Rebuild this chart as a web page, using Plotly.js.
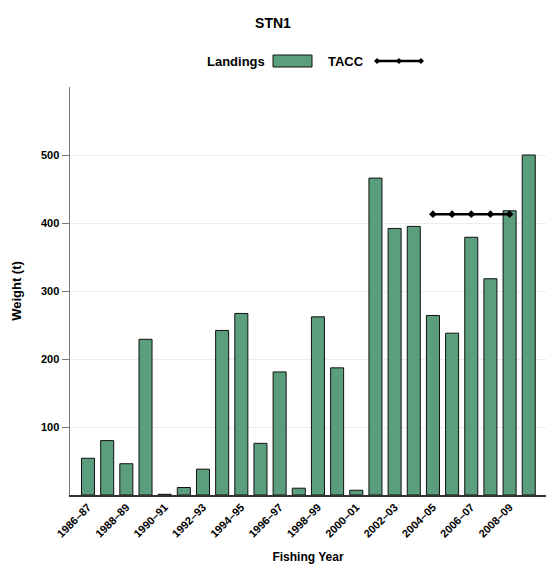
<!DOCTYPE html>
<html>
<head>
<meta charset="utf-8">
<script src="https://cdn.plot.ly/plotly-3.0.1.min.js"></script>
<style>html,body{margin:0;padding:0;background:#fff;}#chart{width:546px;height:565px;}</style>
</head>
<body>
<div id="chart"></div>
<script>
// Fishing years
const years = ["1986–87","1987–88","1988–89","1989–90","1990–91","1991–92","1992–93","1993–94",
  "1994–95","1995–96","1996–97","1997–98","1998–99","1999–00","2000–01","2001–02",
  "2002–03","2003–04","2004–05","2005–06","2006–07","2007–08","2008–09","2009–10"];

// Reported landings (t)
const landings = [54, 80, 46, 229, 1, 11, 38, 242, 267, 76, 181, 10, 262, 187, 7, 466,
  392, 395, 264, 238, 379, 318, 418, 500];

// TACC (t), in place from 2004–05
const taccYears = ["2004–05","2005–06","2006–07","2007–08","2008–09"];
const tacc = [413, 413, 413, 413, 413];

// every second year is labelled
const tickYears = years.filter((y, i) => i % 2 === 0 && i < 23);

const barColor = "#5b9e7d";
const font = "Liberation Sans, Arial, sans-serif";

const traces = [
  {
    type: "bar", name: "Landings", x: years, y: landings, width: 0.68,
    marker: {color: barColor, line: {color: "#111", width: 1}},
    showlegend: false, hoverinfo: "x+y"
  },
  {
    type: "scatter", mode: "lines+markers", name: "TACC", x: taccYears, y: tacc,
    line: {color: "#000", width: 2.5}, marker: {color: "#000", size: 6, symbol: "diamond"},
    showlegend: false
  }
];

// hand-built legend: label to the left of its key
const L = 70, W = 476, B = 495, H = 408;
const px = v => (v - L) / W;
const py = v => (B - v) / H;

const layout = {
  width: 546, height: 565,
  margin: {l: 70, r: 0, t: 87, b: 70},
  paper_bgcolor: "#fff", plot_bgcolor: "#fff",
  font: {family: font, color: "#000"},
  title: {text: "<b>STN1</b>", x: 0.5, xref: "container", y: 1 - 23/565, yref: "container", yanchor: "middle",
    xanchor: "center", font: {size: 14, family: font}},
  xaxis: {
    type: "category", range: [-0.94, 23.9],
    tickmode: "array", tickvals: tickYears, ticktext: tickYears,
    tickangle: -45, tickfont: {size: 11, family: font, weight: "bold"},
    showline: true, linecolor: "#333", linewidth: 1.5, ticks: "", showgrid: false,
    title: {text: "<b>Fishing Year</b>", font: {size: 12, family: font}, standoff: 14},
    fixedrange: true
  },
  yaxis: {
    range: [0, 600], tickvals: [100, 200, 300, 400, 500],
    tickfont: {size: 11, family: font, weight: "bold"},
    showline: true, linecolor: "#777", linewidth: 1.5,
    ticks: "outside", ticklen: 7, tickcolor: "#777",
    showgrid: true, gridcolor: "#ececec", gridwidth: 1, zeroline: false,
    title: {text: "<b>Weight (t)</b>", font: {size: 13, family: font}, standoff: 16},
    fixedrange: true
  },
  shapes: [
    {type: "rect", xref: "paper", yref: "paper", x0: px(273), x1: px(312), y0: py(67), y1: py(55),
      fillcolor: barColor, line: {color: "#111", width: 1}},
    {type: "line", xref: "paper", yref: "paper", x0: px(377), x1: px(421), y0: py(61), y1: py(61),
      line: {color: "#000", width: 2.5}}
  ],
  annotations: [
    {xref: "paper", yref: "paper", x: px(267), y: py(61), xanchor: "right", yanchor: "middle",
      text: "<b>Landings</b>", showarrow: false, font: {size: 13, family: font}},
    {xref: "paper", yref: "paper", x: px(326), y: py(61), xanchor: "left", yanchor: "middle",
      text: "<b>TACC</b>", showarrow: false, font: {size: 13, family: font}}
  ]
};

// diamond keys on the legend line
[377, 399, 421].forEach(x => {
  layout.shapes.push({type: "path", xref: "paper", yref: "paper",
    path: `M ${px(x-3)} ${py(61)} L ${px(x)} ${py(58)} L ${px(x+3)} ${py(61)} L ${px(x)} ${py(64)} Z`,
    fillcolor: "#000", line: {color: "#000", width: 0}});
});

Plotly.newPlot("chart", traces, layout, {displayModeBar: false, staticPlot: true});
</script>
</body>
</html>
